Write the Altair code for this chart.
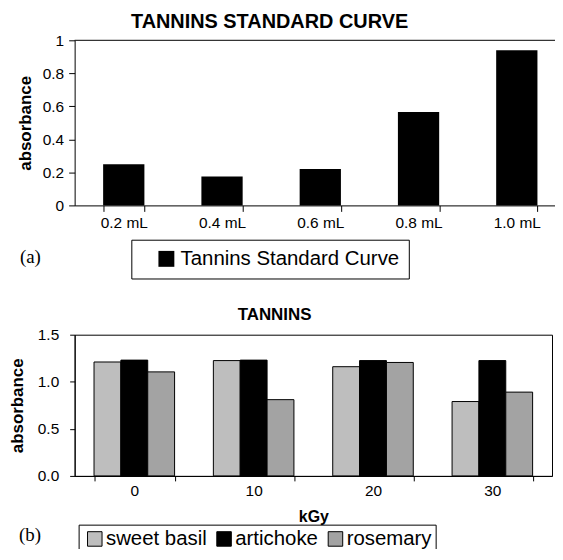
import altair as alt
import pandas as pd

# ---------------- data ----------------
volumes = ["0.2 mL", "0.4 mL", "0.6 mL", "0.8 mL", "1.0 mL"]
std_absorbance = [0.25, 0.175, 0.22, 0.565, 0.94]
std_series = "Tannins Standard Curve"

doses = ["0", "10", "20", "30"]
species = ["sweet basil", "artichoke", "rosemary"]
sweet_basil = [1.21, 1.225, 1.16, 0.79]
artichoke = [1.23, 1.23, 1.225, 1.225]
rosemary = [1.105, 0.81, 1.205, 0.89]
species_colors = ["#BEBEBE", "#000000", "#A3A3A3"]

y_ticks_a = [0, 0.2, 0.4, 0.6, 0.8, 1.0]
y_ticks_b = [0.0, 0.5, 1.0, 1.5]

df_a = pd.DataFrame({"volume": volumes, "absorbance": std_absorbance,
                     "series": [std_series] * len(volumes)})
rows = []
for i, d in enumerate(doses):
    for s, vals in zip(species, [sweet_basil, artichoke, rosemary]):
        rows.append({"kGy": d, "species": s, "absorbance": vals[i]})
df_b = pd.DataFrame(rows)

FONT = "Liberation Sans"
SERIF = "Liberation Serif"

# ---------------- chart (a) ----------------
W_A, H_A = 494, 166
bars_a = alt.Chart(df_a).mark_bar(color="black").encode(
    x=alt.X("volume:N", sort=volumes,
            scale=alt.Scale(paddingInner=0.58, paddingOuter=0.29),
            axis=alt.Axis(title=None, labelAngle=0, tickBand="extent",
                          labelFontSize=15.5, labelFont=FONT, labelColor="black",
                          tickSize=6, labelPadding=4, domainColor="black",
                          tickColor="black")),
    y=alt.Y("absorbance:Q", scale=alt.Scale(domain=[0, 1]),
            axis=alt.Axis(title="absorbance", values=y_ticks_a, format="~g",
                          labelFontSize=15.5, labelFont=FONT, labelColor="black",
                          titleFontSize=17, titleFont=FONT, titleFontWeight="bold",
                          titleColor="black", titlePadding=8,
                          tickSize=6, labelPadding=5, grid=False,
                          domainColor="black", tickColor="black")),
    color=alt.Color("series:N", scale=alt.Scale(domain=[std_series], range=["black"]),
                    legend=alt.Legend(orient="none", legendX=57, legendY=200.5,
                                      title=None, strokeColor="black", padding=9,
                                      symbolType="square", symbolSize=256,
                                      symbolStrokeWidth=0, symbolOffset=16,
                                      labelFontSize=20.5, labelFont=FONT,
                                      labelLimit=400,
                                      labelColor="black", labelOffset=4)),
)
top_line = alt.Chart(pd.DataFrame({"t": ["(a)"]})).mark_rule(
    color="black", strokeWidth=1
).encode(x=alt.value(0), x2=alt.value(W_A), y=alt.value(0))
lab_a = alt.Chart(pd.DataFrame({"t": ["(a)"]})).mark_text(
    font=SERIF, fontSize=19, align="left", baseline="alphabetic", color="black"
).encode(text="t:N", x=alt.value(-55), y=alt.value(224))

chart_a = alt.layer(bars_a, top_line, lab_a).properties(
    width=W_A, height=H_A,
    view=alt.ViewBackground(strokeOpacity=0),
    title=alt.Title("TANNINS STANDARD CURVE", font=FONT, fontSize=20,
                    fontWeight="bold", color="black", anchor="middle",
                    frame="group", dx=-51, offset=1),
)

# ---------------- chart (b) ----------------
W_B, H_B = 480, 142
bars_b = alt.Chart(df_b).mark_bar(stroke="black", strokeWidth=1).encode(
    x=alt.X("kGy:N", sort=doses,
            scale=alt.Scale(paddingInner=0.325, paddingOuter=0.1625),
            axis=alt.Axis(title="kGy", labelAngle=0, tickBand="extent",
                          labelFontSize=15.5, labelFont=FONT, labelColor="black",
                          titleFontSize=16, titleFont=FONT, titleFontWeight="bold",
                          titleColor="black", titlePadding=9,
                          tickSize=5, labelPadding=3, domainColor="black",
                          tickColor="black")),
    xOffset=alt.XOffset("species:N", sort=species,
                        scale=alt.Scale(paddingInner=0, paddingOuter=0)),
    y=alt.Y("absorbance:Q", scale=alt.Scale(domain=[0, 1.5]),
            axis=alt.Axis(title="absorbance", values=y_ticks_b, format=".1f",
                          labelFontSize=15.5, labelFont=FONT, labelColor="black",
                          titleFontSize=17, titleFont=FONT, titleFontWeight="bold",
                          titleColor="black", titlePadding=11,
                          tickSize=5, labelPadding=11, grid=False,
                          domainColor="black", tickColor="black")),
    color=alt.Color("species:N", sort=species,
                    scale=alt.Scale(domain=species, range=species_colors),
                    legend=alt.Legend(orient="none", legendX=4, legendY=191,
                                      direction="horizontal", columns=3,
                                      title=None, strokeColor="black", padding=4,
                                      symbolType="square", symbolSize=213,
                                      symbolStrokeColor="black",
                                      symbolStrokeWidth=1, symbolOffset=2,
                                      columnPadding=5,
                                      labelFontSize=20.5, labelFont=FONT,
                                      labelColor="black", labelOffset=1)),
)
lab_b = alt.Chart(pd.DataFrame({"t": ["(b)"]})).mark_text(
    font=SERIF, fontSize=19, align="left", baseline="alphabetic", color="black"
).encode(text="t:N", x=alt.value(-56), y=alt.value(207))

chart_b = alt.layer(bars_b, lab_b).properties(
    width=W_B, height=H_B,
    view=alt.ViewBackground(stroke="black", strokeWidth=1),
    title=alt.Title("TANNINS", font=FONT, fontSize=17, fontWeight="bold",
                    color="black", anchor="middle", frame="group",
                    dx=-39, offset=4),
)

chart = alt.vconcat(chart_a, chart_b, spacing=26).resolve_scale(
    color="independent"
).resolve_legend(color="independent").properties(
    padding={"left": -1, "top": 3, "right": -12, "bottom": -7}
).configure(background="white")

chart.save("out.html", embed_options={"renderer": "svg", "actions": False})
